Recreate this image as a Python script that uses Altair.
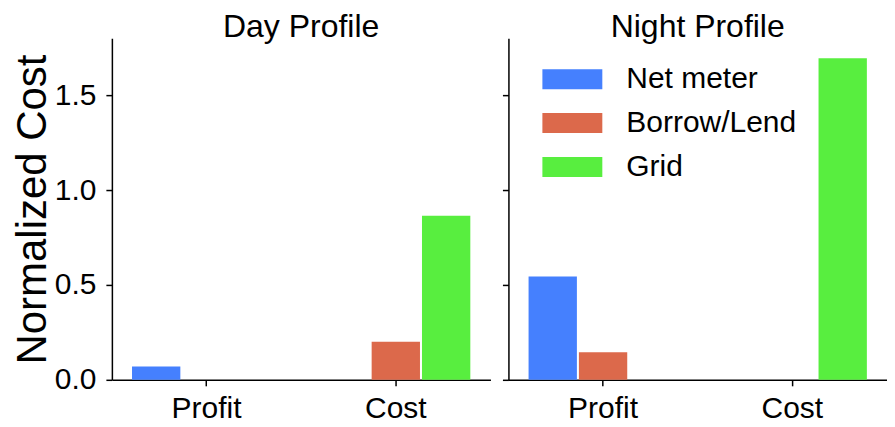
import altair as alt
import pandas as pd

categories = ["Profit", "Cost"]
series = ["Net meter", "Borrow/Lend", "Grid"]
colors = ["#4580FE", "#DC694B", "#58EE3F"]
panels = ["Day Profile", "Night Profile"]

day_profit = [0.07, 0.0, 0.0]
day_cost = [0.0, 0.20, 0.865]
night_profit = [0.545, 0.145, 0.0]
night_cost = [0.0, 0.0, 1.695]

y_ticks = [0.0, 0.5, 1.0, 1.5]

def frame(profit, cost):
    rows = []
    for cat, vals in zip(categories, [profit, cost]):
        for s, v in zip(series, vals):
            rows.append({"category": cat, "series": s, "value": v})
    return pd.DataFrame(rows)

FONT = "Liberation Sans"
W, H = 379, 342

def panel(df, title, show_labels, show_legend):
    color = alt.Color(
        "series:N",
        sort=series,
        scale=alt.Scale(domain=series, range=colors),
        legend=(alt.Legend(
            title=None, orient="none", legendX=29, legendY=26,
            symbolType="M-1,-1H5V1H-1Z", symbolSize=400, symbolStrokeWidth=0,
            symbolOpacity=1, labelFontSize=30, labelFont=FONT, labelColor="black",
            labelOffset=59, rowPadding=14, padding=0, labelLimit=400,
        ) if show_legend else None),
    )
    yaxis = alt.Axis(
        values=y_ticks, format=".1f", grid=False,
        labels=show_labels,
        title="Normalized Cost" if show_labels else None,
        titleFontSize=42, titleFont=FONT, titleFontWeight="normal", titleColor="black",
        titlePadding=0,
        labelFontSize=30, labelFont=FONT, labelColor="black", labelPadding=10,
        tickSize=6, tickColor="black", tickWidth=1.5,
        domainColor="black", domainWidth=1.5,
    )
    xaxis = alt.Axis(
        title=None, labelAngle=0, labelFontSize=30, labelFont=FONT, labelColor="black",
        labelPadding=8, tickSize=6, tickColor="black", tickWidth=1.5,
        domainColor="black", domainWidth=1.5,
    )
    return alt.Chart(df).mark_bar(strokeWidth=0).encode(
        x=alt.X("category:N", sort=categories, axis=xaxis,
                scale=alt.Scale(paddingInner=0, paddingOuter=0)),
        xOffset=alt.XOffset("series:N", sort=series,
                            scale=alt.Scale(paddingInner=0.04, paddingOuter=0.4)),
        y=alt.Y("value:Q", axis=yaxis, scale=alt.Scale(domain=[0, 1.8], nice=False)),
        color=color,
    ).properties(
        width=W, height=H,
        title=alt.TitleParams(title, fontSize=32, font=FONT, fontWeight="normal",
                              color="black", offset=-6),
    )

left = panel(frame(day_profit, day_cost), panels[0], True, False)
right = panel(frame(night_profit, night_cost), panels[1], False, True)

chart = alt.hconcat(left, right, spacing=11).resolve_legend(color="independent").properties(
    padding={"left": 3, "top": 3, "right": 0, "bottom": 0}
).configure_view(stroke=None)

chart.save("out.html", embed_options={"renderer": "svg", "actions": False})
